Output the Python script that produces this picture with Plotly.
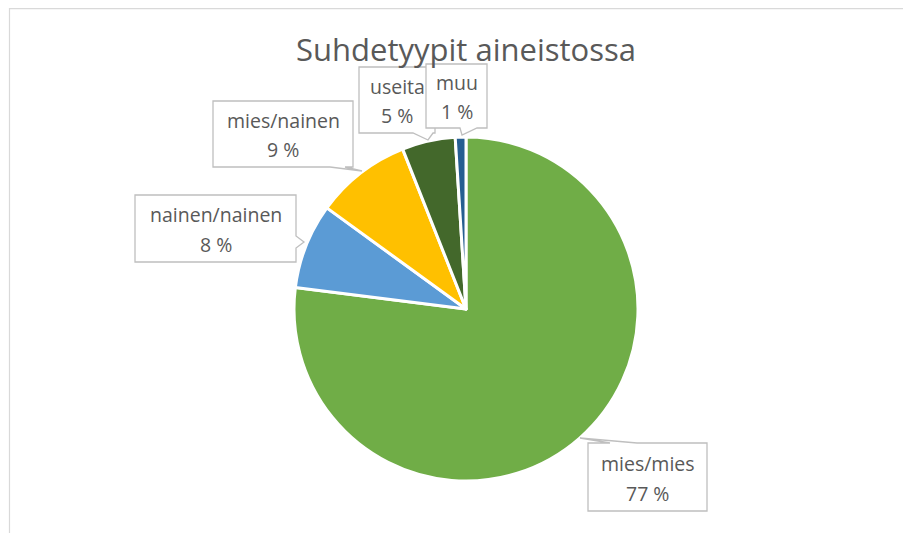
import plotly.graph_objects as go

W, H = 911, 533
OFF = 8  # page body margin offset

categories = ["mies/mies", "nainen/nainen", "mies/nainen", "useita", "muu"]
values = [77, 8, 9, 5, 1]
colors = ["#70AD47", "#5B9BD5", "#FFC000", "#43682B", "#255E91"]
title_text = "Suhdetyypit aineistossa"

# callout boxes (screen pixel layout): left, top, right, bottom, pointer (base1, tip, base2)
callouts = {
    "mies/mies": dict(box=(588, 443, 707, 511), ptr=[(610, 443), (580, 438), (637, 443)], side="top"),
    "nainen/nainen": dict(box=(135, 195, 296, 262), ptr=[(296, 236), (304, 242), (296, 248)], side="right"),
    "mies/nainen": dict(box=(213, 101, 353, 167), ptr=[(345, 167), (362, 171), (330, 167)], side="bottom"),
    "useita": dict(box=(359, 67, 435, 133), ptr=[(433, 133), (428, 140), (413, 133)], side="bottom"),
    "muu": dict(box=(426, 64, 487, 128), ptr=[(477, 128), (462, 135), (460, 128)], side="bottom"),
}


def px(x):
    return (x - OFF) / W


def py(y):
    return 1 - (y - OFF) / H


cx, cy, r = 466, 309, 172

fig = go.Figure(go.Pie(
    labels=categories,
    values=values,
    sort=False,
    direction="clockwise",
    rotation=0,
    marker=dict(colors=colors, line=dict(color="white", width=3)),
    textinfo="none",
    showlegend=False,
    domain=dict(x=[px(cx - r), px(cx + r)], y=[py(cy + r), py(cy - r)]),
))

shapes = []
# chart area border
shapes.append(dict(type="path", xref="paper", yref="paper",
                   path=f"M {px(9.5)},{py(560)} L {px(9.5)},{py(8.6)} L {px(940)},{py(8.6)}",
                   line=dict(color="#D9D9D9", width=1.2)))

label_font = dict(family="Open Sans", size=19.5, color="#595959")
annotations = []
for cat, val in zip(categories, values):
    c = callouts[cat]
    l, t, rr, b = c["box"]
    p = c["ptr"]
    if c["side"] == "top":
        pts = [(l, t), p[0], p[1], p[2], (rr, t), (rr, b), (l, b)]
    elif c["side"] == "right":
        pts = [(l, t), (rr, t), p[0], p[1], p[2], (rr, b), (l, b)]
    else:  # bottom
        pts = [(l, t), (rr, t), (rr, b), p[0], p[1], p[2], (l, b)]
    path = "M " + " L ".join(f"{px(x)},{py(y)}" for x, y in pts) + " Z"
    shapes.append(dict(type="path", xref="paper", yref="paper", path=path,
                       fillcolor="white", line=dict(color="#BFBFBF", width=1.3),
                       layer="above"))
    mid = (t + b) / 2
    for txt, yy in ((cat, mid - 14), (f"{val} %", mid + 16)):
        annotations.append(dict(
            x=px((l + rr) / 2), y=py(yy), xref="paper", yref="paper",
            text=txt, showarrow=False, align="center",
            xanchor="center", yanchor="middle", font=label_font,
        ))

fig.update_layout(
    width=W, height=H,
    margin=dict(l=0, r=0, t=0, b=0),
    paper_bgcolor="white",
    plot_bgcolor="white",
    title=dict(text=title_text, x=px(466), y=py(50), xanchor="center", yanchor="middle",
               font=dict(family="Open Sans", size=31, color="#595959")),
    shapes=shapes,
    annotations=annotations,
)

fig.write_html("out.html")
